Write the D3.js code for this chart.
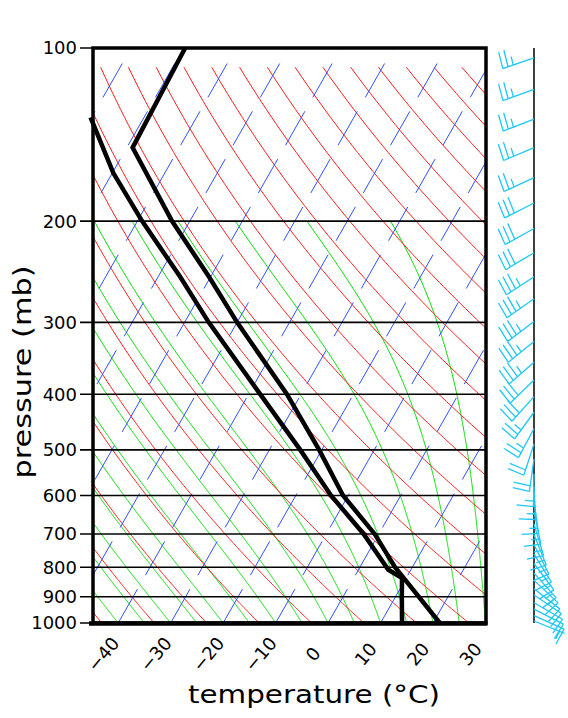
<!DOCTYPE html>
<html>
<head>
<meta charset="utf-8">
<script src="https://cdn.jsdelivr.net/npm/d3@7"></script>
<style>
body { margin: 0; background: #fff; }
text { font-family: "DejaVu Sans", sans-serif; fill: #000; }
</style>
</head>
<body>
<div id="body"></div>
<script>
// axis ticks
var pressureTicks = [100, 200, 300, 400, 500, 600, 700, 800, 900, 1000];
var tempTicks = [-40, -30, -20, -10, 0, 10, 20, 30];

// sounding
var tempP = [100, 149, 200, 250, 300, 400, 500, 600, 700, 800, 832, 1000];
var tempC = [-89.7, -88.9, -73.4, -60.3, -50.0, -32.7, -20.5, -11.0, -0.8, 6.7, 9.3, 21.3];
var dewP = [132, 165, 200, 250, 300, 400, 500, 600, 700, 808, 835, 900, 1000];
var dewC = [-100.2, -89.8, -79.1, -65.8, -55.4, -37.8, -24.1, -13.3, -2.9, 5.7, 9.2, 11.2, 14.1];

// winds (direction in degrees, speed in knots)
var windP = [104, 118, 133, 149, 168, 186, 206, 227, 250, 273, 299, 324, 352, 378, 404, 430, 459, 488,
             518, 550, 579, 613, 641, 673, 702, 731, 759, 788, 819, 843, 872, 894, 922, 946, 971, 992];
var windDir = [251, 250, 249, 247, 245, 243, 241, 239, 237, 235, 233, 231, 229, 226, 222, 216, 208, 198,
               188, 181, 177, 172, 168, 163, 158, 153, 148, 143, 138, 133, 128, 124, 120, 117, 114, 112];
var windSpd = [25, 25, 25, 25, 25, 30, 30, 30, 35, 35, 35, 35, 35, 30, 30, 25, 25, 20,
               20, 15, 15, 15, 15, 15, 15, 15, 15, 15, 15, 15, 10, 10, 10, 10, 10, 5];

// background lines
var thetaList = d3.range(230, 480, 10);
var moistList = d3.range(-45, 31, 5);
var isoList = d3.range(-160, 40, 10);

var width = 568, height = 718;
var plot = {left: 93, right: 486, top: 48, bottom: 623};

var svg = d3.select("#body")
  .append("svg")
  .attr("width", width)
  .attr("height", height);

var yScale = d3.scaleLog()
  .domain([100, 1000])
  .range([plot.top, plot.bottom]);

var xScale = d3.scaleLinear()
  .domain([-44.8, 30.1])
  .range([plot.left, plot.right]);

var skew = 0.57;

function px(t, p) {
  return xScale(t) + skew * (yScale(1000) - yScale(p));
}

svg.append("clipPath").attr("id", "clip")
  .append("rect")
  .attr("x", plot.left).attr("y", plot.top)
  .attr("width", plot.right - plot.left).attr("height", plot.bottom - plot.top);

var line = d3.line()
  .x(function(d) { return px(d[1], d[0]); })
  .y(function(d) { return yScale(d[0]); });

var bg = svg.append("g").attr("clip-path", "url(#clip)");

// moist adiabats
function moistPath(t0) {
  var Rd = 287.04, cp = 1005.7, Lv = 2.501e6, eps = 0.622;
  function slope(p, T) {
    var tc = T - 273.15;
    var es = 6.112 * Math.exp(17.67 * tc / (tc + 243.5));
    var rs = eps * es / (p - es);
    return (Rd * T + Lv * rs) / (cp + Lv * Lv * rs * eps / (Rd * T * T)) / p;
  }
  var T = t0 + 273.15, pts = [];
  for (var p = 1000; p >= 200; p -= 2) {
    pts.push([p, T - 273.15]);
    var k1 = slope(p, T);
    var k2 = slope(p - 1, T - k1);
    T -= 2 * k2;
  }
  return pts;
}

bg.selectAll(".moist")
  .data(moistList)
  .enter().append("path")
  .attr("class", "moist")
  .attr("d", function(t) { return line(moistPath(t)); })
  .attr("fill", "none")
  .attr("stroke", "#00dc00")
  .attr("stroke-width", 1);

// dry adiabats
bg.selectAll(".dry")
  .data(thetaList)
  .enter().append("path")
  .attr("class", "dry")
  .attr("d", function(th) {
    var pts = [];
    for (var p = 1000; p >= 108; p -= 4) {
      pts.push([p, th * Math.pow(p / 1000, 0.2857) - 273.15]);
    }
    return line(pts);
  })
  .attr("fill", "none")
  .attr("stroke", "#fa1e1e")
  .attr("stroke-width", 1);

// isotherms
bg.selectAll(".iso")
  .data(isoList)
  .enter().append("line")
  .attr("class", "iso")
  .attr("x1", function(t) { return px(t, 1000); })
  .attr("y1", yScale(1000))
  .attr("x2", function(t) { return px(t, 100); })
  .attr("y2", yScale(100))
  .attr("stroke", "#3250ff")
  .attr("stroke-width", 1)
  .attr("stroke-dasharray", "39,16");

// pressure lines and ticks
svg.selectAll(".plev")
  .data(pressureTicks)
  .enter().append("line")
  .attr("class", "plev")
  .attr("x1", plot.left - 13)
  .attr("x2", plot.right)
  .attr("y1", function(p) { return yScale(p); })
  .attr("y2", function(p) { return yScale(p); })
  .attr("stroke", "#000")
  .attr("stroke-width", 1.6);

svg.selectAll(".plab")
  .data(pressureTicks)
  .enter().append("text")
  .attr("class", "plab")
  .attr("x", plot.left - 16)
  .attr("y", function(p) { return yScale(p); })
  .attr("dy", "0.36em")
  .attr("text-anchor", "end")
  .style("font-size", "18px")
  .text(function(p) { return p; });

// sounding lines
var sline = d3.line()
  .x(function(d) { return px(d[1], d[0]); })
  .y(function(d) { return yScale(d[0]); });

svg.append("path")
  .attr("d", sline(dewP.map(function(p, i) { return [p, dewC[i]]; })))
  .attr("fill", "none")
  .attr("stroke", "#000")
  .attr("stroke-width", 4.5)
  .attr("stroke-linejoin", "miter");

svg.append("path")
  .attr("d", sline(tempP.map(function(p, i) { return [p, tempC[i]]; })))
  .attr("fill", "none")
  .attr("stroke", "#000")
  .attr("stroke-width", 4.5)
  .attr("stroke-linejoin", "miter");

// frame
svg.append("rect")
  .attr("x", plot.left).attr("y", plot.top)
  .attr("width", plot.right - plot.left).attr("height", plot.bottom - plot.top)
  .attr("fill", "none")
  .attr("stroke", "#000")
  .attr("stroke-width", 3.5);

svg.append("line")
  .attr("x1", plot.left - 4).attr("x2", plot.right + 1.5)
  .attr("y1", plot.bottom + 0.5).attr("y2", plot.bottom + 0.5)
  .attr("stroke", "#000").attr("stroke-width", 4.5);

// temperature labels
svg.selectAll(".tlab")
  .data(tempTicks)
  .enter().append("text")
  .attr("class", "tlab")
  .attr("transform", function(t) {
    return "translate(" + (xScale(t) - 15) + "," + 654 + ") rotate(-50)";
  })
  .attr("text-anchor", "middle")
  .attr("dy", "0.36em")
  .style("font-size", "18px")
  .text(function(t) { return t < 0 ? "\u2212" + (-t) : t; });

// axis titles
svg.append("text")
  .attr("x", 314)
  .attr("y", 703)
  .attr("text-anchor", "middle")
  .attr("textLength", 252)
  .attr("lengthAdjust", "spacingAndGlyphs")
  .style("font-size", "25px")
  .text("temperature (\u00b0C)");

svg.append("text")
  .attr("transform", "translate(31," + 372 + ") rotate(-90)")
  .attr("text-anchor", "middle")
  .attr("textLength", 213)
  .attr("lengthAdjust", "spacingAndGlyphs")
  .style("font-size", "25px")
  .text("pressure (mb)");

// wind barbs
var poleX = 534;
svg.append("line")
  .attr("x1", poleX).attr("x2", poleX)
  .attr("y1", plot.top).attr("y2", plot.bottom)
  .attr("stroke", "#000").attr("stroke-width", 1.5);

var barbs = svg.append("g")
  .attr("stroke", "#1ec8f5")
  .attr("stroke-width", 1.3)
  .attr("fill", "none");

windP.forEach(function(p, i) {
  var a = windDir[i] * Math.PI / 180;
  var ux = Math.sin(a), uy = -Math.cos(a);
  var L = 33;
  var y0 = yScale(p);
  var tx = poleX + ux * L, ty = y0 + uy * L;
  var path = d3.path();
  path.moveTo(poleX, y0);
  path.lineTo(tx, ty);
  // feathers on the clockwise side of the shaft
  var fa = 95 * Math.PI / 180;
  var fx = Math.cos(fa) * ux - Math.sin(fa) * uy;
  var fy = Math.sin(fa) * ux + Math.cos(fa) * uy;
  var spd = windSpd[i], pos = 0;
  while (spd >= 10) {
    var bx = tx - ux * pos, by = ty - uy * pos;
    path.moveTo(bx, by);
    path.lineTo(bx + fx * 17, by + fy * 17);
    spd -= 10; pos += 5.5;
  }
  if (spd >= 5) {
    if (pos === 0) pos = 5.5;
    var hx = tx - ux * pos, hy = ty - uy * pos;
    path.moveTo(hx, hy);
    path.lineTo(hx + fx * 8.5, hy + fy * 8.5);
  }
  barbs.append("path").attr("d", path.toString());
});
</script>
</body>
</html>
